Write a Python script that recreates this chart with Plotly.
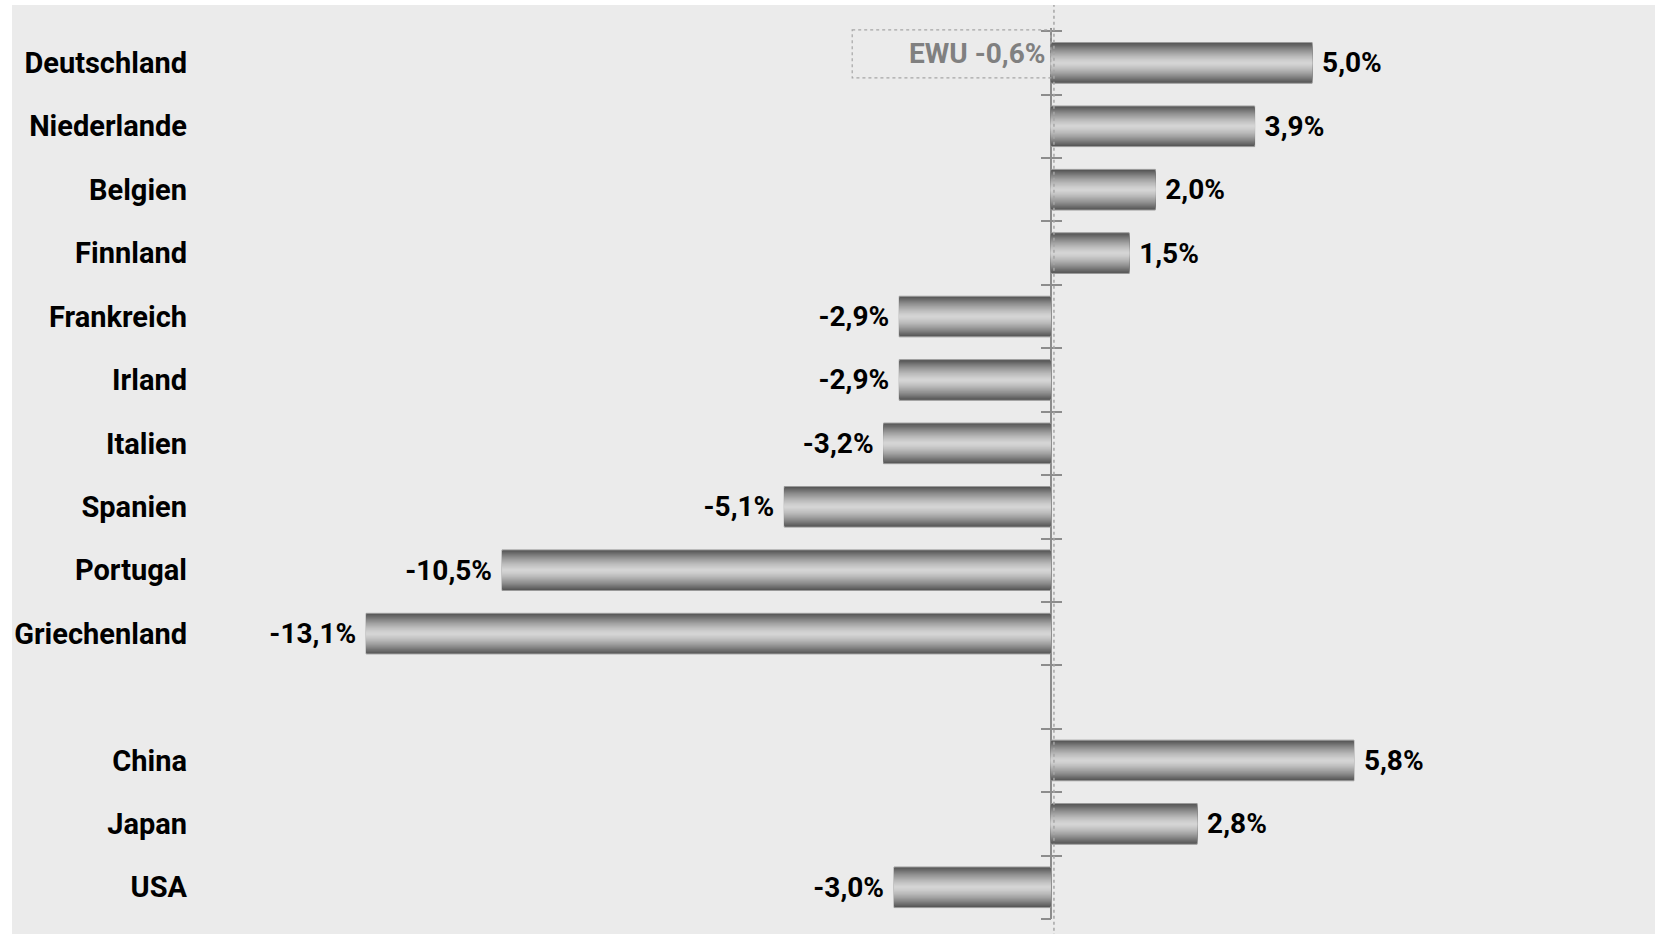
import plotly.graph_objects as go

# ---- data -------------------------------------------------------------
countries = ["Deutschland", "Niederlande", "Belgien", "Finnland", "Frankreich",
             "Irland", "Italien", "Spanien", "Portugal", "Griechenland",
             " ", "China", "Japan", "USA"]
values = [5.0, 3.9, 2.0, 1.5, -2.9, -2.9, -3.2, -5.1, -10.5, -13.1,
          None, 5.8, 2.8, -3.0]
ewu_name = "EWU"
ewu_value = -0.6

# ---- styling ----------------------------------------------------------
FONT = "Roboto, Liberation Sans, sans-serif"
LABEL_SIZE = 29
VALUE_SIZE = 28
BG = "#ebebeb"
AXIS_GREY = "#8c8c8c"
X_RANGE = [-16.47, 11.56]
Y_TOP, Y_BOTTOM = -0.55, 13.5
BAR_WIDTH = 0.64
N_LAYERS = 20
DARK = (84, 84, 84)
LIGHT = (214, 214, 214)


def de_pct(v):
    return f"{v:.1f}".replace(".", ",") + "%"


def shade(t):
    return "rgb({},{},{})".format(*[round(l + (d - l) * t) for d, l in zip(DARK, LIGHT)])


labels = []
for v in values:
    if v is None:
        labels.append("")
    elif v >= 0:
        labels.append("\u00a0" + de_pct(v))
    else:
        labels.append(de_pct(v) + "\u00a0")

fig = go.Figure()

# Bars with a vertical metallic gradient: stacked, ever thinner layers
for k in range(N_LAYERS):
    d = 1 - k / N_LAYERS
    outer = k == 0
    fig.add_trace(go.Bar(
        y=countries, x=values, orientation="h",
        width=BAR_WIDTH * d,
        marker=dict(color=shade(d ** 1.4),
                    line=dict(color="#9a9a9a" if outer else "rgba(0,0,0,0)",
                              width=1 if outer else 0)),
        text=labels if outer else None,
        textposition="outside" if outer else "none",
        textfont=dict(family=FONT, size=VALUE_SIZE, color="#000000", weight=700),
        constraintext="none",
        cliponaxis=False,
        showlegend=False, hoverinfo="skip",
    ))

# Helper traces so the crossing tick axes at zero get drawn
for ax in ("y2", "y3"):
    fig.add_trace(go.Scatter(x=[None], y=[None], xaxis="x", yaxis=ax,
                             mode="markers", showlegend=False, hoverinfo="skip"))

zero_pos = (0 - X_RANGE[0]) / (X_RANGE[1] - X_RANGE[0])
boundaries = [i - 0.5 for i in range(len(countries) + 1)]
tick_axis = dict(type="linear", overlaying="y", anchor="free", position=zero_pos,
                 range=[Y_BOTTOM, Y_TOP], tickvals=boundaries, ticklen=10,
                 tickwidth=1.5, tickcolor=AXIS_GREY, showticklabels=False,
                 showgrid=False, zeroline=False, showline=False)

fig.update_layout(
    width=1655, height=934,
    margin=dict(l=190, r=0, t=28, b=15),
    paper_bgcolor="white",
    plot_bgcolor="rgba(0,0,0,0)",
    barmode="overlay",
    xaxis=dict(range=X_RANGE, showticklabels=False, ticks="", showgrid=False,
               zeroline=True, zerolinecolor=AXIS_GREY, zerolinewidth=1.5,
               showline=False),
    yaxis=dict(type="category", categoryorder="array", categoryarray=countries,
               range=[Y_BOTTOM, Y_TOP], ticks="", showgrid=False, zeroline=False,
               showline=False, automargin=False, ticklabelstandoff=2,
               tickfont=dict(family=FONT, size=LABEL_SIZE, color="#000000", weight=700)),
    yaxis2=dict(tick_axis, ticks="outside"),
    yaxis3=dict(tick_axis, ticks="inside"),
    shapes=[
        # grey chart area
        dict(type="rect", xref="paper", yref="paper", layer="below",
             x0=-0.1215, x1=1.0, y0=-0.02, y1=1.0258,
             fillcolor=BG, line=dict(width=0)),
        # dotted reference line next to the zero axis
        dict(type="line", xref="x", yref="paper", x0=0.06, x1=0.06,
             y0=-0.02, y1=1.0258, line=dict(color="#a6a6a6", width=1.5, dash="dot")),
        # dotted frame around the euro-area note
        dict(type="rect", xref="x", yref="y", x0=-3.8, x1=0, y0=-0.52, y1=0.237,
             line=dict(color="#a6a6a6", width=1.2, dash="dot"),
             fillcolor="rgba(0,0,0,0)"),
    ],
    annotations=[
        dict(xref="x", yref="y", x=-0.08, y=-0.142, xanchor="right", yanchor="middle",
             text=f"{ewu_name} {de_pct(ewu_value)}", showarrow=False,
             font=dict(family=FONT, size=VALUE_SIZE, color="#808080", weight=700)),
    ],
)

fig.write_html("out.html")
